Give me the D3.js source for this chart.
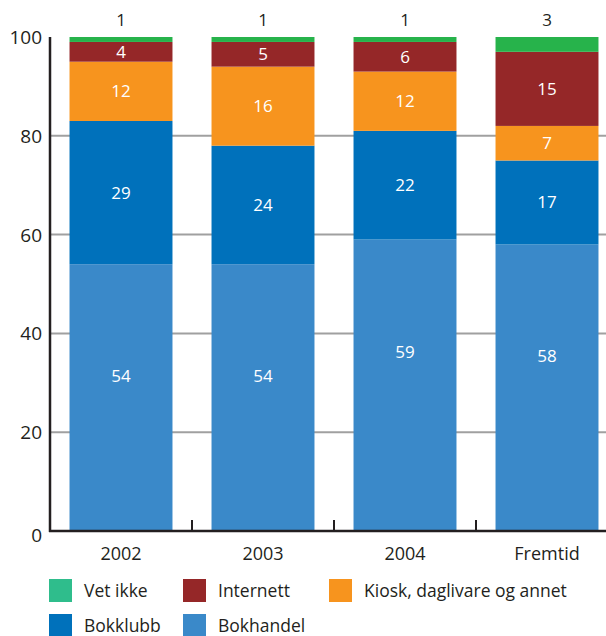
<!DOCTYPE html>
<html>
<head>
<meta charset="utf-8">
<script src="https://cdn.jsdelivr.net/npm/d3@7"></script>
<style>
	body { margin: 0; background: #fff; }
	text { font-family: "Open Sans", "Noto Sans", sans-serif; }
</style>
</head>
<body>
<div id="chart"></div>
<script>
// data
const categories = ["2002", "2003", "2004", "Fremtid"];
const bokhandel = [54, 54, 59, 58];
const bokklubb = [29, 24, 22, 17];
const kiosk = [12, 16, 12, 7];
const internett = [4, 5, 6, 15];
const vetIkke = [1, 1, 1, 3];
const yTicks = [0, 20, 40, 60, 80, 100];

const seriesNames = ["Bokhandel", "Bokklubb", "Kiosk, daglivare og annet", "Internett", "Vet ikke"];
const seriesValues = [bokhandel, bokklubb, kiosk, internett, vetIkke];
const barColors = ["#3a89c9", "#0071bb", "#f7941e", "#952728", "#27b34b"];
const legendColors = ["#3a89c9", "#0071bb", "#f7941e", "#952728", "#2fbd8c"];

const width = 606;
const height = 636;

const svg = d3
	.select("#chart")
	.append("svg")
	.attr("width", width)
	.attr("height", height);

const x = d3
	.scaleBand()
	.domain(categories)
	.range([50, 618])
	.paddingInner(0.275)
	.paddingOuter(0.1375);

const y = d3.scaleLinear().domain([0, 100]).range([531, 37]);

// gridlines
svg
	.append("g")
	.selectAll("line")
	.data(yTicks.filter(d => d > 0 && d < 100))
	.enter()
	.append("line")
	.attr("x1", 50)
	.attr("x2", width)
	.attr("y1", d => y(d))
	.attr("y2", d => y(d))
	.attr("stroke", "#a0a0a0")
	.attr("stroke-width", 2);

// stacked table
const table = categories.map((c, i) => {
	const row = { cat: c };
	seriesNames.forEach((s, j) => (row[s] = seriesValues[j][i]));
	return row;
});
const stacked = d3.stack().keys(seriesNames)(table);

const layers = svg
	.append("g")
	.selectAll("g")
	.data(stacked)
	.enter()
	.append("g")
	.attr("fill", (d, i) => barColors[i]);

layers
	.selectAll("rect")
	.data(d => d)
	.enter()
	.append("rect")
	.attr("x", d => x(d.data.cat))
	.attr("width", x.bandwidth())
	.attr("y", d => y(d[1]))
	.attr("height", d => y(d[0]) - y(d[1]));

// value labels
stacked.forEach((layer, i) => {
	const top = i === stacked.length - 1;
	svg
		.append("g")
		.selectAll("text")
		.data(layer)
		.enter()
		.append("text")
		.attr("x", d => x(d.data.cat) + x.bandwidth() / 2)
		.attr("y", d => {
			if (top) return y(100) - 11;
			// the bottom labels sit in the upper part of the tall segment
			if (i === 0) return y(d[1]) + 118;
			return y((d[0] + d[1]) / 2) + 6;
		})
		.attr("text-anchor", "middle")
		.attr("font-size", 17)
		.attr("fill", top ? "#231f20" : "#ffffff")
		.text(d => d[1] - d[0]);
});

// y axis
svg
	.append("line")
	.attr("x1", 50)
	.attr("x2", 50)
	.attr("y1", y(100))
	.attr("y2", y(0) + 1)
	.attr("stroke", "#231f20")
	.attr("stroke-width", 2.5);

svg
	.append("g")
	.selectAll("text")
	.data(yTicks)
	.enter()
	.append("text")
	.attr("x", 42)
	.attr("y", d => y(d) + 7 + (d === 0 ? 4 : 0))
	.attr("text-anchor", "end")
	.attr("font-size", 19)
	.attr("fill", "#231f20")
	.text(d => d);

// x axis
svg
	.append("line")
	.attr("x1", 49)
	.attr("x2", width)
	.attr("y1", y(0))
	.attr("y2", y(0))
	.attr("stroke", "#231f20")
	.attr("stroke-width", 2.5);

svg
	.append("g")
	.selectAll("line")
	.data(categories.slice(1))
	.enter()
	.append("line")
	.attr("x1", d => x(d) - (x.step() - x.bandwidth()) / 2)
	.attr("x2", d => x(d) - (x.step() - x.bandwidth()) / 2)
	.attr("y1", y(0))
	.attr("y2", y(0) - 11)
	.attr("stroke", "#231f20")
	.attr("stroke-width", 2);

svg
	.append("g")
	.selectAll("text")
	.data(categories)
	.enter()
	.append("text")
	.attr("x", d => x(d) + x.bandwidth() / 2)
	.attr("y", 560)
	.attr("text-anchor", "middle")
	.attr("font-size", 18)
	.attr("fill", "#231f20")
	.text(d => d);

// legend
const legendItems = [
	{ name: "Vet ikke", i: 4, x: 49, y: 579 },
	{ name: "Internett", i: 3, x: 183, y: 579 },
	{ name: "Kiosk, daglivare og annet", i: 2, x: 329, y: 579 },
	{ name: "Bokklubb", i: 1, x: 49, y: 614 },
	{ name: "Bokhandel", i: 0, x: 183, y: 614 }
];

const legend = svg
	.append("g")
	.selectAll("g")
	.data(legendItems)
	.enter()
	.append("g")
	.attr("transform", d => `translate(${d.x}, ${d.y})`);

legend
	.append("rect")
	.attr("width", 23)
	.attr("height", 23)
	.attr("fill", d => legendColors[d.i]);

legend
	.append("text")
	.attr("x", 35)
	.attr("y", 18)
	.attr("font-size", 17.5)
	.attr("fill", "#231f20")
	.text(d => d.name);
</script>
</body>
</html>
